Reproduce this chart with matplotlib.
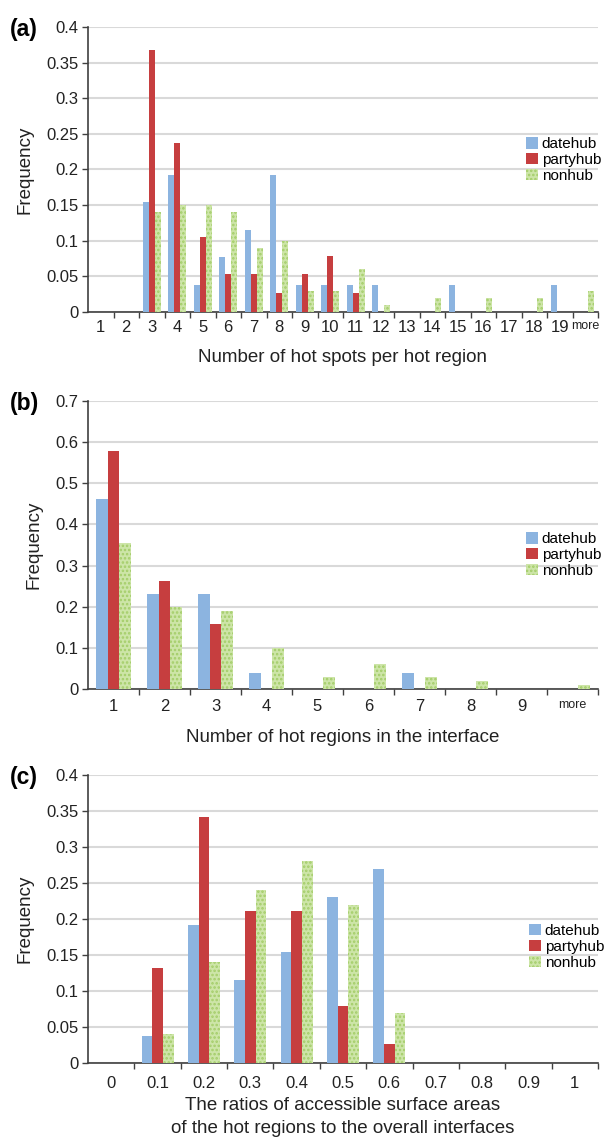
import matplotlib
matplotlib.use("Agg")
import matplotlib.pyplot as plt
import numpy as np

plt.rcParams['font.family'] = ['Liberation Sans', 'DejaVu Sans']
plt.rcParams['hatch.linewidth'] = 1.2

series_names = ["datehub", "partyhub", "nonhub"]

# Panel (a)
cats_a = ["1", "2", "3", "4", "5", "6", "7", "8", "9", "10", "11", "12", "13",
          "14", "15", "16", "17", "18", "19", "more"]
date_a = [0, 0, 0.154, 0.192, 0.038, 0.077, 0.115, 0.192, 0.038, 0.038, 0.038,
          0.038, 0, 0, 0.038, 0, 0, 0, 0.038, 0]
party_a = [0, 0, 0.368, 0.237, 0.105, 0.053, 0.053, 0.026, 0.053, 0.079, 0.026,
           0, 0, 0, 0, 0, 0, 0, 0, 0]
non_a = [0, 0, 0.14, 0.15, 0.15, 0.14, 0.09, 0.10, 0.03, 0.03, 0.06, 0.01, 0,
         0.02, 0, 0.02, 0, 0.02, 0, 0.03]
yticks_a = [0, 0.05, 0.1, 0.15, 0.2, 0.25, 0.3, 0.35, 0.4]
yticklabels_a = ["0", "0.05", "0.1", "0.15", "0.2", "0.25", "0.3", "0.35", "0.4"]

# Panel (b)
cats_b = ["1", "2", "3", "4", "5", "6", "7", "8", "9", "more"]
date_b = [0.462, 0.231, 0.231, 0.038, 0, 0, 0.038, 0, 0, 0]
party_b = [0.579, 0.263, 0.158, 0, 0, 0, 0, 0, 0, 0]
non_b = [0.354, 0.20, 0.19, 0.10, 0.03, 0.06, 0.03, 0.02, 0, 0.01]
yticks_b = [0, 0.1, 0.2, 0.3, 0.4, 0.5, 0.6, 0.7]
yticklabels_b = ["0", "0.1", "0.2", "0.3", "0.4", "0.5", "0.6", "0.7"]

# Panel (c)
cats_c = ["0", "0.1", "0.2", "0.3", "0.4", "0.5", "0.6", "0.7", "0.8", "0.9", "1"]
date_c = [0, 0.038, 0.192, 0.115, 0.154, 0.231, 0.269, 0, 0, 0, 0]
party_c = [0, 0.132, 0.342, 0.211, 0.211, 0.079, 0.026, 0, 0, 0, 0]
non_c = [0, 0.04, 0.14, 0.24, 0.28, 0.22, 0.07, 0, 0, 0, 0]
yticks_c = yticks_a
yticklabels_c = yticklabels_a

blue = "#8cb4e0"
red = "#c63e3f"
green_face = "#cde5a8"
green_hatch = "#a3cd68"
grid_col = "#d9d9d9"
axis_col = "#404040"

W, H = 604, 1141
fig = plt.figure(figsize=(W / 100, H / 100), dpi=100)


def fx(px):
    return px / W


def fy(py):
    return 1 - py / H


def panel(top, bottom, cats, d, p, n, yticks, ylabels, xlabel, label,
          leg_anchor, more_small=False, xpad=6, xlabelpad=8, linespacing=1.4):
    ax = fig.add_axes([fx(88), fy(bottom), fx(598) - fx(88), fy(top) - fy(bottom)])
    x = np.arange(len(cats))
    bw = 0.23
    ax.bar(x - bw, d, bw, color=blue, linewidth=0, label=series_names[0], zorder=3)
    ax.bar(x, p, bw, color=red, linewidth=0, label=series_names[1], zorder=3)
    ax.bar(x + bw, n, bw, color=green_face, edgecolor=green_hatch, hatch="....",
           linewidth=0, label=series_names[2], zorder=3)
    ax.set_xlim(-0.5, len(cats) - 0.5)
    ax.set_ylim(yticks[0], yticks[-1])
    ax.set_yticks(yticks)
    ax.set_yticklabels(ylabels, fontsize=12, color="#222222")
    ax.yaxis.grid(True, color=grid_col, linewidth=1.5, zorder=0)
    ax.set_axisbelow(True)
    ax.set_xticks(x)
    ax.set_xticklabels(cats, fontsize=12, color="#222222")
    if more_small:
        ax.get_xticklabels()[-1].set_fontsize(9)
    ax.tick_params(axis='x', which='major', length=0, pad=xpad)
    ax.set_xticks(np.arange(len(cats)) + 0.5, minor=True)
    ax.tick_params(axis='x', which='minor', length=4, color=axis_col, width=1)
    ax.tick_params(axis='y', length=4, color=axis_col, width=1, pad=3)
    for s in ["top", "right"]:
        ax.spines[s].set_visible(False)
    for s in ["left", "bottom"]:
        ax.spines[s].set_color(axis_col)
        ax.spines[s].set_linewidth(1.2)
    ax.set_ylabel("Frequency", fontsize=13.5, labelpad=9, color="#222222")
    ax.set_xlabel(xlabel, fontsize=13.5, labelpad=xlabelpad, linespacing=linespacing,
                  color="#222222")
    ax.legend(loc="center left", bbox_to_anchor=leg_anchor, frameon=False,
              fontsize=11, handlelength=0.8, handleheight=0.75,
              handletextpad=0.25, labelspacing=0.12, borderpad=0,
              borderaxespad=0)
    fig.text(fx(10), fy(top) - 0.002, label, fontsize=16.5, fontweight="bold",
             ha="left", va="center")
    return ax


panel(27, 312, cats_a, date_a, party_a, non_a, yticks_a, yticklabels_a,
      "Number of hot spots per hot region", "(a)", (0.858, 0.533), more_small=True,
      xpad=6, xlabelpad=10)
panel(401, 689, cats_b, date_b, party_b, non_b, yticks_b, yticklabels_b,
      "Number of hot regions in the interface", "(b)", (0.858, 0.465), more_small=True,
      xpad=7, xlabelpad=11)
panel(775, 1063, cats_c, date_c, party_c, non_c, yticks_c, yticklabels_c,
      "The ratios of accessible surface areas\nof the hot regions to the overall interfaces",
      "(c)", (0.864, 0.403), xpad=9, xlabelpad=5, linespacing=1.45)

fig.savefig("out.png", dpi=100)
